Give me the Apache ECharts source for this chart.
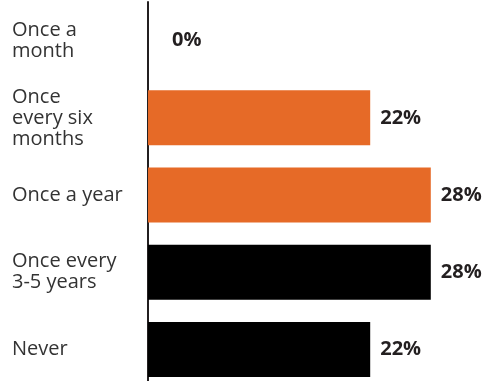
<!DOCTYPE html>
<html>
<head>
<meta charset="utf-8">
<script src="https://cdn.jsdelivr.net/npm/echarts@6/dist/echarts.min.js"></script>
<style>
  html, body { margin: 0; padding: 0; background: #fff; }
  #chart { width: 487px; height: 381px; }
</style>
</head>
<body>
<div id="chart"></div>
<script>
// Survey answers: how often the respondent does it
const categories = ['Once a\nmonth', 'Once\nevery six\nmonths', 'Once a year', 'Once every\n3-5 years', 'Never'];
const shares = [0, 22, 28, 28, 22];
const barColors = ['#E66A27', '#E66A27', '#E66A27', '#000000', '#000000'];

const chart = echarts.init(document.getElementById('chart'));
chart.setOption({
  animation: false,
  grid: { left: 148, width: 303, top: 2, height: 386, containLabel: false, outerBoundsMode: 'none' },
  xAxis: {
    type: 'value', min: 0, max: 30, show: false
  },
  yAxis: {
    type: 'category',
    inverse: true,
    data: categories,
    axisLine: { show: true, lineStyle: { color: '#231f20', width: 2 } },
    axisTick: { show: false },
    axisLabel: {
      align: 'left',
      margin: 136,
      color: '#333333',
      fontFamily: 'Open Sans',
      fontSize: 20,
      lineHeight: 21
    }
  },
  series: [{
    type: 'bar',
    barWidth: 55,
    data: shares.map((v, i) => ({
      value: v,
      itemStyle: { color: barColors[i] },
      label: i === 0 ? { distance: 24 } : {}
    })),
    label: {
      show: true,
      position: 'right',
      distance: 10,
      formatter: '{c}%',
      color: '#231f20',
      fontFamily: 'Open Sans',
      fontWeight: 'bold',
      fontSize: 20
    }
  }]
});
</script>
</body>
</html>
